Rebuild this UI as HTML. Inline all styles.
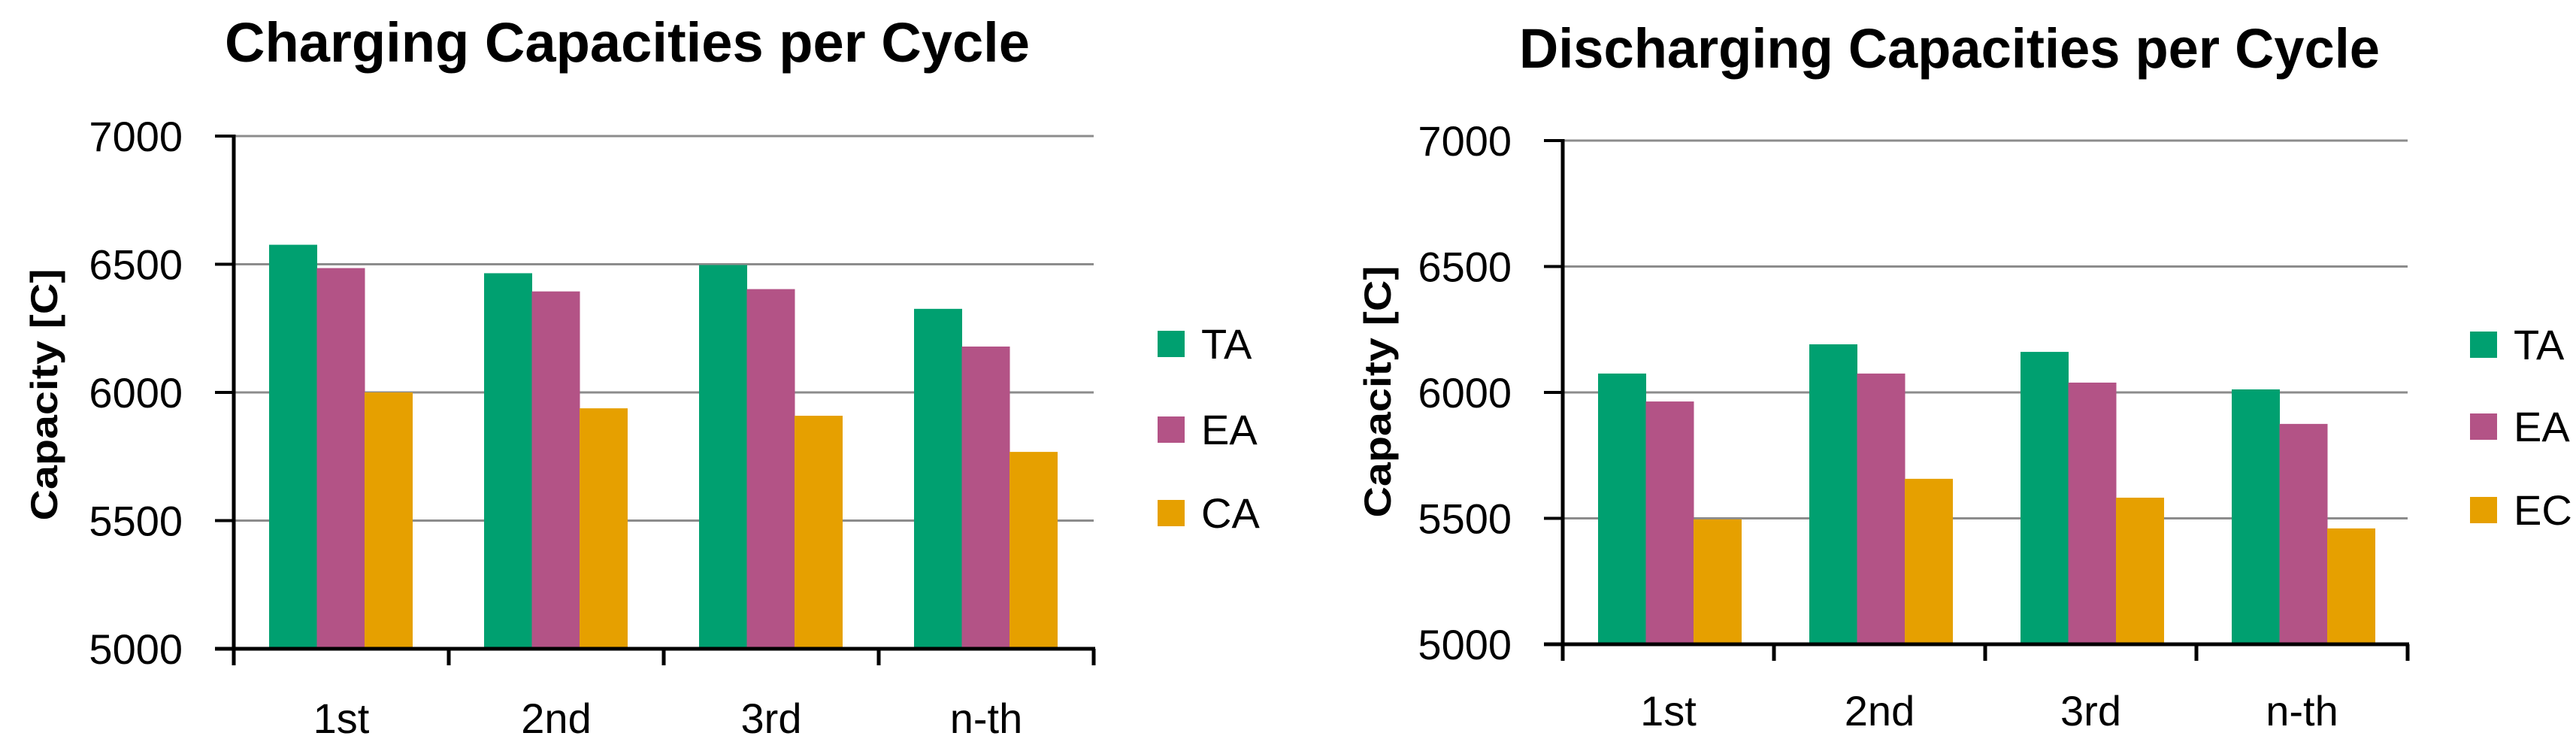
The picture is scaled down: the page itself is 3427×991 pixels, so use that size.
<!DOCTYPE html>
<html><head><meta charset="utf-8"><style>
html,body{margin:0;padding:0;background:#fff}
svg{display:block}
text{font-family:"Liberation Sans",sans-serif;fill:#000}
</style></head><body>
<svg id="chart" width="3427" height="991" viewBox="0 0 3427 991" xmlns="http://www.w3.org/2000/svg"></svg>
<script>
const categories = ["1st","2nd","3rd","n-th"];
const chargeTA = [6576, 6465, 6497, 6326];
const chargeEA = [6485, 6394, 6403, 6179];
const chargeCA = [6000, 5938, 5909, 5768];
const dischargeTA = [6075, 6191, 6161, 6012];
const dischargeEA = [5964, 6075, 6039, 5875];
const dischargeEC = [5496, 5657, 5582, 5460];
const yTicks = [5000, 5500, 6000, 6500, 7000];
const chargeSeriesNames = ["TA","EA","CA"];
const dischargeSeriesNames = ["TA","EA","EC"];
const colors = ["#00a070","#b35386","#e6a000"];

const NS = "http://www.w3.org/2000/svg";
const svg = document.getElementById("chart");
function mk(tag, attrs, parent){
  const e = document.createElementNS(NS, tag);
  for (const k in attrs) e.setAttribute(k, attrs[k]);
  (parent||svg).appendChild(e);
  return e;
}

function drawChart(cfg){
  const g = mk("g", {});
  
  
  const yMin = 5000, yMax = 7000;
  const y = v => cfg.y0 - (v - yMin) / (yMax - yMin) * (cfg.y0 - cfg.y1);
  const catW = (cfg.x1 - cfg.x0) / categories.length;
  const x = i => cfg.x0 + i * catW;
  const t = mk("text", {x: cfg.titleX, y: cfg.titleY, "font-size": 74, "font-weight": "bold", textLength: cfg.titleLen, lengthAdjust: "spacingAndGlyphs"}, g);
  t.textContent = cfg.title;
  
  
  yTicks.forEach(v => {
    if (v > yMin) {
      const gl = mk("line", {x1: cfg.x0, x2: cfg.x1, y1: y(v), y2: y(v), stroke: "#8c8c8c", "stroke-width": 3}, g);
      
      
    }
    const tk = mk("line", {x1: cfg.x0 - 25, x2: cfg.x0, y1: y(v), y2: y(v), stroke: "#000", "stroke-width": 4}, g);
    
    
    const lb = mk("text", {x: cfg.x0 - 68, y: y(v) + 20, "font-size": 56, "text-anchor": "end"}, g);
    lb.textContent = v;
    
    
  });
  const barW = 63.5, off = 47;
  cfg.series.forEach((vals, s) => {
    vals.forEach((v, i) => {
      const bx = x(i) + off + s * barW;
      const r = mk("rect", {x: bx, y: y(v), width: barW + 0.5, height: y(yMin) - y(v), fill: colors[s]}, g);
      
      
    });
  });
  const ya = mk("line", {x1: cfg.x0, x2: cfg.x0, y1: cfg.y1 - 2, y2: cfg.y0 + 22, stroke: "#000", "stroke-width": 5}, g);
  
  
  const xa = mk("line", {x1: cfg.x0 - 25, x2: cfg.x1 + 2, y1: cfg.y0, y2: cfg.y0, stroke: "#000", "stroke-width": 5}, g);
  
  
  for (let i = 1; i <= categories.length; i++) {
    const tk = mk("line", {x1: x(i), x2: x(i), y1: cfg.y0, y2: cfg.y0 + 22, stroke: "#000", "stroke-width": 5}, g);
    
    
  }
  categories.forEach((c, i) => {
    const lb = mk("text", {x: x(i) + catW / 2, y: cfg.xLabelY, "font-size": 56, "text-anchor": "middle"}, g);
    lb.textContent = c;
    
    
  });
  const yt = mk("text", {x: 0, y: 0, "font-size": 50, "font-weight": "bold", "text-anchor": "middle",
    transform: `translate(${cfg.yTitleX},${cfg.yTitleY}) rotate(-90)`, textLength: 335, lengthAdjust: "spacingAndGlyphs"}, g);
  yt.textContent = "Capacity [C]";
  
  
  cfg.names.forEach((n, s) => {
    const ly = cfg.legendY[s];
    const sq = mk("rect", {x: cfg.legendX, y: ly, width: 36, height: 35, fill: colors[s]}, g);
    
    
    const lt = mk("text", {x: cfg.legendX + 58, y: ly + 37, "font-size": 56}, g);
    lt.textContent = n;
    
    
  });
}

drawChart({name: "charging-chart", title: "Charging Capacities per Cycle",
  titleX: 299, titleY: 82, titleLen: 1071,
  x0: 311, x1: 1455, y0: 863, y1: 181, xLabelY: 975, yTitleX: 76, yTitleY: 525,
  series: [chargeTA, chargeEA, chargeCA], names: chargeSeriesNames,
  legendX: 1540, legendY: [440, 554, 665]});
drawChart({name: "discharging-chart", title: "Discharging Capacities per Cycle",
  titleX: 2021, titleY: 90, titleLen: 1145,
  x0: 2079, x1: 3203, y0: 857, y1: 187, xLabelY: 965, yTitleX: 1850, yTitleY: 521,
  series: [dischargeTA, dischargeEA, dischargeEC], names: dischargeSeriesNames,
  legendX: 3286, legendY: [441, 550, 661]});
</script>
</body></html>
